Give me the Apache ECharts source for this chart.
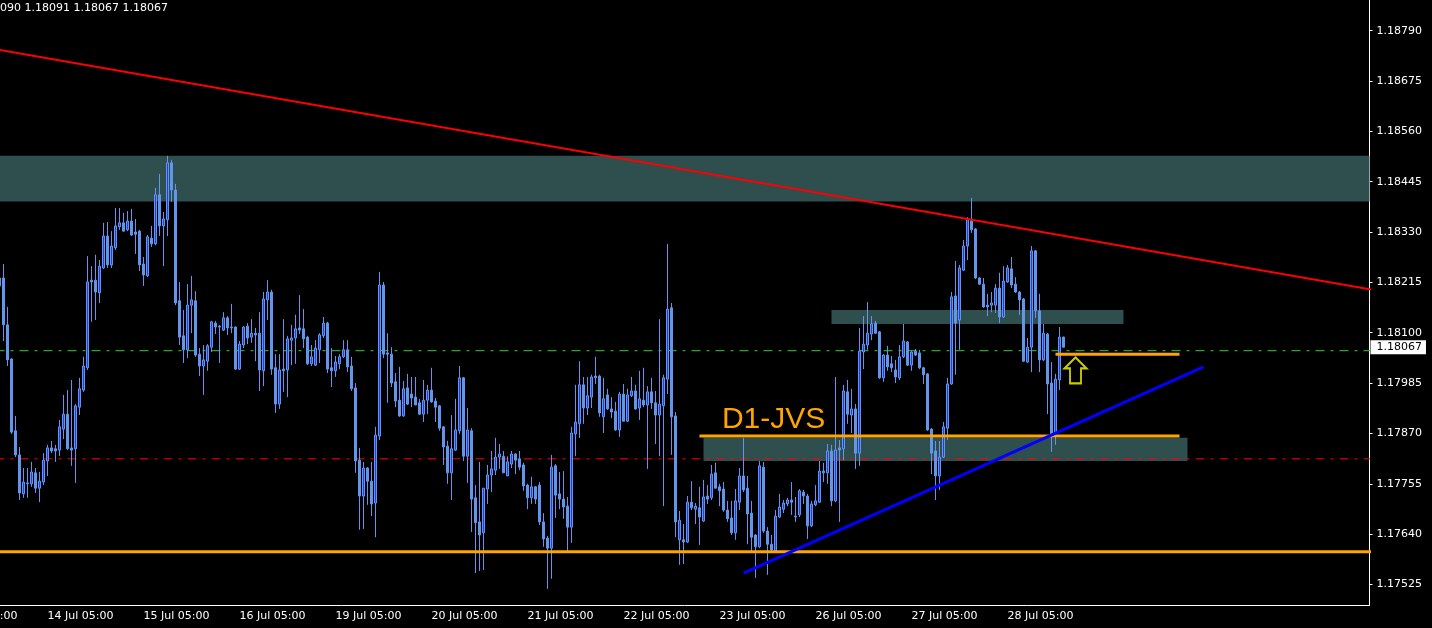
<!DOCTYPE html>
<html><head><meta charset="utf-8">
<script src="https://cdn.jsdelivr.net/npm/echarts@6/dist/echarts.min.js"></script>
<style>html,body{margin:0;padding:0;background:#000;}#c{width:1432px;height:628px;}</style>
</head><body><div id="c"></div>
<script>
// ---------- DATA ----------
const days = ['13 Jul','14 Jul','15 Jul','16 Jul','19 Jul','20 Jul','21 Jul','22 Jul','23 Jul','26 Jul','27 Jul','28 Jul','29 Jul','30 Jul','31 Jul'];
const dayStartHour = 5;      // each trading-day block starts at 05:00
const totalBars = 355;       // bars on the time axis (incl. empty space on the right)
const firstCandleBar = 12;   // first drawn candle: 13 Jul 17:00

const open = [
1.18207,1.18225,1.18118,1.18040,1.17876,1.17821,1.17732,1.17757,1.17755,1.17780,1.17745,1.17759,
1.17807,1.17837,1.17835,1.17832,1.17880,1.17914,1.17837,1.17835,1.17930,1.17969,1.18020,1.18220,
1.18220,1.18191,1.18248,1.18321,1.18255,1.18294,1.18342,1.18351,1.18335,1.18355,1.18330,1.18332,
1.18257,1.18230,1.18316,1.18303,1.18415,1.18344,1.18358,1.18488,1.18426,1.18173,1.18093,1.18061,
1.18163,1.18173,1.18051,1.18024,1.18035,1.18067,1.18122,1.18115,1.18106,1.18134,1.18113,1.18113,
1.18017,1.18072,1.18115,1.18090,1.18099,1.18099,1.18013,1.18175,1.18193,1.18020,1.17937,1.18017,
1.18015,1.18083,1.18088,1.18111,1.18109,1.18090,1.18029,1.18026,1.18061,1.18093,1.18122,1.18020,
1.18013,1.18029,1.18045,1.18061,1.18024,1.17974,1.17809,1.17727,1.17791,1.17761,1.17711,1.17864,
1.18209,1.18054,1.18051,1.17988,1.17946,1.17910,1.17974,1.17960,1.17953,1.17940,1.17914,1.17946,
1.17969,1.17944,1.17933,1.17885,1.17841,1.17780,1.17832,1.17876,1.17997,1.17818,1.17876,1.17723,
1.17668,1.17643,1.17743,1.17775,1.17786,1.17816,1.17818,1.17773,1.17800,1.17823,1.17812,1.17798,
1.17752,1.17723,1.17748,1.17752,1.17668,1.17631,1.17608,1.17796,1.17732,1.17720,1.17704,1.17656,
1.17869,1.17892,1.17981,1.17928,1.17953,1.18001,1.18001,1.17908,1.17958,1.17926,1.17921,1.17878,
1.17960,1.17898,1.17956,1.17967,1.17928,1.17946,1.17935,1.17965,1.17940,1.17912,1.17933,1.17994,
1.18157,1.17910,1.17627,1.17627,1.17622,1.17713,1.17697,1.17700,1.17670,1.17727,1.17723,1.17780,
1.17748,1.17743,1.17695,1.17677,1.17643,1.17713,1.17773,1.17745,1.17688,1.17638,1.17611,1.17793,
1.17647,1.17617,1.17601,1.17679,1.17697,1.17709,1.17718,1.17681,1.17684,1.17736,1.17727,1.17659,
1.17707,1.17713,1.17784,1.17780,1.17830,1.17716,1.17837,1.17835,1.17965,1.17912,1.17926,1.17825,
1.18056,1.18072,1.18097,1.18122,1.18102,1.17997,1.18049,1.18029,1.18015,1.17997,1.18045,1.18079,
1.18026,1.18058,1.18054,1.18020,1.18006,1.17880,1.17830,1.17773,1.17816,1.17882,1.17983,1.18184,
1.18129,1.18243,1.18298,1.18355,1.18337,1.18225,1.18211,1.18163,1.18163,1.18163,1.18202,1.18136,
1.18216,1.18246,1.18211,1.18193,1.18177,1.18033,1.18067,1.18287,1.18150,1.18038,1.18097,1.17985,
1.17869,1.17992,1.18090];
const high = [
1.18232,1.18257,1.18159,1.18042,1.17910,1.17839,1.17791,1.17791,1.17805,1.17791,1.17782,1.17825,
1.17844,1.17853,1.17844,1.17901,1.17958,1.17969,1.17992,1.17937,1.17997,1.18045,1.18275,1.18252,
1.18278,1.18266,1.18351,1.18353,1.18332,1.18385,1.18385,1.18374,1.18378,1.18383,1.18360,1.18335,
1.18273,1.18323,1.18344,1.18431,1.18463,1.18376,1.18504,1.18495,1.18440,1.18216,1.18152,1.18211,
1.18230,1.18195,1.18065,1.18072,1.18074,1.18127,1.18127,1.18118,1.18147,1.18138,1.18166,1.18115,
1.18081,1.18115,1.18122,1.18131,1.18111,1.18147,1.18193,1.18220,1.18198,1.18051,1.18051,1.18131,
1.18093,1.18118,1.18141,1.18186,1.18154,1.18093,1.18072,1.18083,1.18099,1.18136,1.18125,1.18065,
1.18047,1.18051,1.18083,1.18083,1.18045,1.17985,1.17837,1.17805,1.17793,1.17805,1.17885,1.18239,
1.18216,1.18099,1.18067,1.18008,1.18022,1.17990,1.18006,1.17999,1.17999,1.17949,1.17992,1.17981,
1.18020,1.17951,1.17935,1.17887,1.17853,1.17912,1.17949,1.18024,1.17999,1.17928,1.17882,1.17752,
1.17805,1.17745,1.17798,1.17830,1.17860,1.17846,1.17830,1.17818,1.17830,1.17825,1.17830,1.17803,
1.17755,1.17771,1.17750,1.17759,1.17688,1.17636,1.17821,1.17800,1.17782,1.17784,1.17725,1.17885,
1.17981,1.18035,1.17999,1.17999,1.18004,1.18045,1.18004,1.17997,1.17972,1.17953,1.17942,1.17965,
1.17983,1.17972,1.17999,1.17981,1.18013,1.18020,1.17978,1.17997,1.17967,1.18131,1.18004,1.18303,
1.18168,1.17919,1.17693,1.17663,1.17727,1.17761,1.17711,1.17748,1.17764,1.17752,1.17798,1.17803,
1.17755,1.17759,1.17716,1.17716,1.17743,1.17791,1.17860,1.17773,1.17716,1.17640,1.17807,1.17805,
1.17656,1.17638,1.17695,1.17732,1.17718,1.17723,1.17759,1.17725,1.17743,1.17741,1.17732,1.17716,
1.17752,1.17807,1.17803,1.17846,1.17844,1.17999,1.17855,1.17981,1.17992,1.17972,1.17937,1.18111,
1.18138,1.18170,1.18138,1.18127,1.18104,1.18051,1.18070,1.18047,1.18038,1.18072,1.18120,1.18081,
1.18058,1.18063,1.18061,1.18022,1.18008,1.17882,1.17853,1.17853,1.17896,1.17997,1.18193,1.18264,
1.18255,1.18312,1.18364,1.18408,1.18339,1.18227,1.18225,1.18189,1.18193,1.18211,1.18237,1.18252,
1.18255,1.18273,1.18227,1.18195,1.18179,1.18088,1.18298,1.18289,1.18189,1.18120,1.18099,1.18033,
1.18006,1.18113,1.18091];
const low = [
1.18198,1.18081,1.18024,1.17869,1.17816,1.17718,1.17723,1.17723,1.17748,1.17734,1.17713,1.17752,
1.17773,1.17825,1.17805,1.17818,1.17857,1.17832,1.17796,1.17757,1.17912,1.17965,1.18015,1.18125,
1.18129,1.18168,1.18246,1.18248,1.18248,1.18289,1.18335,1.18332,1.18332,1.18321,1.18280,1.18241,
1.18207,1.18227,1.18296,1.18300,1.18321,1.18252,1.18321,1.18399,1.18163,1.18072,1.18031,1.18042,
1.18099,1.18045,1.18001,1.17958,1.18013,1.18056,1.18097,1.18031,1.18104,1.18095,1.18099,1.18015,
1.18015,1.18065,1.18074,1.18077,1.18035,1.17967,1.17978,1.18129,1.18004,1.17917,1.17926,1.17965,
1.17953,1.18026,1.18029,1.18097,1.18065,1.18026,1.18024,1.18024,1.18031,1.18088,1.18008,1.17976,
1.17999,1.18017,1.18042,1.18010,1.17967,1.17780,1.17650,1.17652,1.17707,1.17681,1.17633,1.17855,
1.18042,1.17940,1.17976,1.17930,1.17908,1.17908,1.17935,1.17930,1.17935,1.17912,1.17896,1.17914,
1.17940,1.17896,1.17876,1.17798,1.17755,1.17718,1.17830,1.17869,1.17807,1.17757,1.17645,1.17551,
1.17556,1.17558,1.17709,1.17736,1.17775,1.17789,1.17780,1.17773,1.17791,1.17777,1.17786,1.17739,
1.17697,1.17709,1.17709,1.17661,1.17611,1.17515,1.17538,1.17677,1.17697,1.17675,1.17601,1.17620,
1.17818,1.17860,1.17892,1.17912,1.17928,1.17983,1.17908,1.17871,1.17924,1.17905,1.17876,1.17862,
1.17898,1.17896,1.17953,1.17924,1.17901,1.17930,1.17789,1.17926,1.17846,1.17818,1.17704,1.17960,
1.17821,1.17633,1.17570,1.17572,1.17620,1.17695,1.17663,1.17615,1.17668,1.17709,1.17718,1.17745,
1.17704,1.17691,1.17668,1.17638,1.17627,1.17695,1.17736,1.17617,1.17601,1.17540,1.17608,1.17643,
1.17547,1.17601,1.17599,1.17677,1.17688,1.17704,1.17684,1.17668,1.17679,1.17709,1.17629,1.17656,
1.17704,1.17711,1.17759,1.17755,1.17704,1.17713,1.17668,1.17809,1.17892,1.17871,1.17789,1.17796,
1.18017,1.18061,1.18083,1.18097,1.17994,1.17988,1.18013,1.18010,1.17985,1.17992,1.18042,1.18024,
1.18013,1.18047,1.18017,1.17983,1.17876,1.17777,1.17718,1.17741,1.17814,1.17855,1.17981,1.18004,
1.18061,1.18241,1.18266,1.18328,1.18223,1.18209,1.18157,1.18138,1.18147,1.18145,1.18122,1.18134,
1.18214,1.18202,1.18191,1.18141,1.18033,1.18031,1.18010,1.18134,1.18010,1.18035,1.17914,1.17828,
1.17844,1.17969,1.18067];
const close = [
1.18225,1.18118,1.18038,1.17873,1.17821,1.17734,1.17759,1.17755,1.17782,1.17745,1.17761,1.17809,
1.17837,1.17830,1.17830,1.17885,1.17914,1.17835,1.17832,1.17933,1.17972,1.18024,1.18216,1.18216,
1.18193,1.18252,1.18321,1.18255,1.18298,1.18344,1.18351,1.18332,1.18355,1.18323,1.18325,1.18255,
1.18232,1.18319,1.18303,1.18415,1.18344,1.18360,1.18488,1.18426,1.18168,1.18090,1.18061,1.18163,
1.18175,1.18049,1.18024,1.18038,1.18070,1.18125,1.18113,1.18113,1.18134,1.18111,1.18111,1.18017,
1.18074,1.18113,1.18088,1.18099,1.18095,1.18015,1.18177,1.18193,1.18017,1.17937,1.18015,1.18013,
1.18086,1.18088,1.18109,1.18106,1.18086,1.18029,1.18045,1.18065,1.18095,1.18122,1.18017,1.18013,
1.18033,1.18045,1.18061,1.18022,1.17972,1.17807,1.17727,1.17791,1.17761,1.17709,1.17866,1.18209,
1.18051,1.18051,1.17985,1.17944,1.17910,1.17972,1.17937,1.17951,1.17935,1.17914,1.17946,1.17969,
1.17942,1.17930,1.17882,1.17839,1.17780,1.17835,1.17878,1.17997,1.17818,1.17878,1.17720,1.17666,
1.17638,1.17745,1.17775,1.17789,1.17816,1.17823,1.17780,1.17805,1.17823,1.17809,1.17793,1.17750,
1.17723,1.17748,1.17720,1.17668,1.17629,1.17608,1.17793,1.17729,1.17720,1.17702,1.17656,1.17871,
1.17896,1.17981,1.17928,1.17956,1.17999,1.17997,1.17917,1.17949,1.17926,1.17919,1.17878,1.17960,
1.17898,1.17958,1.17967,1.17926,1.17949,1.17935,1.17965,1.17940,1.17912,1.17937,1.17997,1.18154,
1.17908,1.17668,1.17672,1.17622,1.17713,1.17700,1.17704,1.17679,1.17725,1.17720,1.17777,1.17745,
1.17739,1.17695,1.17675,1.17643,1.17716,1.17773,1.17741,1.17686,1.17633,1.17611,1.17796,1.17647,
1.17617,1.17604,1.17681,1.17702,1.17711,1.17718,1.17713,1.17679,1.17739,1.17727,1.17659,1.17709,
1.17716,1.17784,1.17780,1.17830,1.17716,1.17832,1.17832,1.17967,1.17914,1.17926,1.17825,1.18058,
1.18074,1.18099,1.18120,1.18099,1.17997,1.18049,1.18022,1.18020,1.17999,1.18045,1.18081,1.18026,
1.18056,1.18049,1.18020,1.18004,1.17878,1.17825,1.17773,1.17816,1.17885,1.17983,1.18182,1.18122,
1.18248,1.18298,1.18360,1.18335,1.18225,1.18211,1.18159,1.18159,1.18168,1.18202,1.18136,1.18218,
1.18248,1.18209,1.18193,1.18175,1.18035,1.18067,1.18287,1.18150,1.18038,1.18099,1.17983,1.17869,
1.17994,1.18090,1.18067];

// price scale
const priceMin = 1.17477, priceMax = 1.18860;
const priceTicks = [1.17525,1.17640,1.17755,1.17870,1.17985,1.18100,1.18215,1.18330,1.18445,1.18560,1.18675,1.18790];
const headerText = '090 1.18091 1.18067 1.18067';

// chart objects (bar index on time axis, prices)
const zones = [[-1, 355, 1.18400, 1.18504], [220, 293, 1.18120, 1.18152], [188, 309, 1.17807, 1.17860]];
const orangeFull = [[-1, 1.17600], [355, 1.17600]];
const orangeJVS = [[187, 1.17864], [307, 1.17864]];
const orangeShort = [[276, 1.18051], [307, 1.18051]];
const redTrend = [[12, 1.18746], [354, 1.18200]];
const blueTrend = [[198, 1.17551], [313, 1.18022]];
const tradeOpen = 1.18059, tradeSL = 1.17812;
const arrowPoint = [[281, 1.18014]];
const textLabels = ['D1-JVS'];
const textPoint = [[192.6, 1.17902]];

// ---------- BUILD ----------
const cats = [];
for (let i = 0; i < totalBars; i++) {
  const d = Math.floor(i / 24), hr = (dayStartHour + i % 24) % 24;
  cats.push(days[d] + ' ' + (hr < 10 ? '0' : '') + hr + ':00');
}
const lastBar = firstCandleBar + open.length - 1;
const candles = [];
for (let i = 0; i < totalBars; i++) {
  const j = i - firstCandleBar;
  if (j >= 0 && j < open.length) candles.push([open[j], close[j], low[j], high[j]]);
  else candles.push('-');
}
function extend(pts, x0, x1) {
  const [a, b] = pts, s = (b[1] - a[1]) / (b[0] - a[0]);
  return [[x0, a[1] + (x0 - a[0]) * s], [x1, a[1] + (x1 - a[0]) * s]];
}
const lastClose = close[close.length - 1];
const FONT = '"DejaVu Sans", Verdana, sans-serif';
const labelInterval = (idx, val) => idx <= lastBar && /05:00$/.test(val);

function seg(data, color, width, type, z) {
  return { type: 'line', xAxisIndex: 1, yAxisIndex: 0, data, showSymbol: false, symbol: 'none',
    lineStyle: { color, width, type: type || 'solid' }, z, silent: true, clip: true, animation: false };
}

const chart = echarts.init(document.getElementById('c'), null, { renderer: 'canvas' });
chart.setOption({
  backgroundColor: '#000000',
  animation: false,
  title: { text: headerText, left: 0, top: 3, padding: 0,
    textStyle: { color: '#ffffff', fontSize: 11, fontWeight: 'normal', fontFamily: FONT } },
  grid: { left: -50.5, right: 62.5, top: 0, bottom: 22.5, containLabel: false, outerBoundsMode: 'none' },
  xAxis: [
    { type: 'category', data: cats, boundaryGap: true, position: 'bottom',
      axisLine: { onZero: false, lineStyle: { color: '#ffffff', width: 1 } },
      axisTick: { alignWithLabel: true, interval: labelInterval, length: 4, lineStyle: { color: '#ffffff' } },
      axisLabel: { interval: labelInterval, color: '#ffffff', fontFamily: FONT, fontSize: 11, align: 'left', margin: 5, hideOverlap: false },
      splitLine: { show: false } },
    { type: 'value', min: -0.5, max: totalBars - 0.5, show: false }
  ],
  yAxis: [
    { type: 'value', position: 'right', min: priceMin, max: priceMax, scale: true,
      axisLine: { show: true, onZero: false, lineStyle: { color: '#ffffff', width: 1 } },
      axisTick: { show: true, customValues: priceTicks, length: 3, lineStyle: { color: '#ffffff' } },
      axisLabel: { customValues: priceTicks, formatter: v => v.toFixed(5), color: '#ffffff', fontFamily: FONT, fontSize: 11, margin: 7 },
      splitLine: { show: false } },
    { type: 'value', position: 'right', min: priceMin, max: priceMax, scale: true,
      axisLine: { show: false, onZero: false }, axisTick: { show: false },
      axisLabel: { customValues: [lastClose], formatter: v => v.toFixed(5), color: '#000000', backgroundColor: '#ffffff',
        padding: [2, 4, 1, 6], fontFamily: FONT, fontSize: 11, margin: 1 },
      splitLine: { show: false } }
  ],
  series: [
    { type: 'custom', xAxisIndex: 1, yAxisIndex: 0, z: 1, silent: true, data: zones,
      renderItem: (params, api) => {
        const p0 = api.coord([api.value(0), api.value(3)]);
        const p1 = api.coord([api.value(1), api.value(2)]);
        const cs = params.coordSys;
        const shape = echarts.graphic.clipRectByRect(
          { x: p0[0], y: p0[1], width: p1[0] - p0[0], height: p1[1] - p0[1] },
          { x: cs.x, y: cs.y, width: cs.width, height: cs.height });
        return shape && { type: 'rect', shape, style: { fill: '#2F4F4F' } };
      } },
    seg([[-1, tradeOpen], [totalBars, tradeOpen]], '#32CD32', 1, [9, 6, 3, 6], 2),
    seg([[-1, tradeSL], [totalBars, tradeSL]], '#FF0000', 1, [9, 6, 3, 6], 2),
    { type: 'candlestick', xAxisIndex: 0, yAxisIndex: 0, data: candles, barWidth: 2, z: 3, silent: true,
      itemStyle: { color: '#1E40E8', color0: '#6495ED', borderColor: '#6495ED', borderColor0: '#6495ED', borderWidth: 1 } },
    seg(orangeFull, '#FFA500', 3, 'solid', 4),
    seg(orangeJVS, '#FFA500', 3, 'solid', 4),
    seg(orangeShort, '#FFA500', 3, 'solid', 4),
    seg(extend(redTrend, -1, totalBars), '#FF0000', 2, 'solid', 5),
    seg(blueTrend, '#0000FF', 3, 'solid', 5),
    { type: 'scatter', xAxisIndex: 1, yAxisIndex: 0, data: arrowPoint, z: 6, silent: true,
      symbol: 'path://M11 0 L22 11 L16.5 11 L16.5 26 L5.5 26 L5.5 11 L0 11 Z', symbolSize: [22, 26],
      itemStyle: { color: '#000000', borderColor: '#FFFF00', borderWidth: 2 } },
    { type: 'custom', xAxisIndex: 1, yAxisIndex: 0, z: 6, silent: true, data: textPoint,
      renderItem: (params, api) => {
        const p = api.coord([api.value(0), api.value(1)]);
        return { type: 'text', x: p[0], y: p[1],
          style: { text: textLabels[params.dataIndex], fill: '#FFA500', font: '30px "Liberation Sans", Arial, sans-serif',
            align: 'left', verticalAlign: 'middle' } };
      } }
  ]
});
</script></body></html>
